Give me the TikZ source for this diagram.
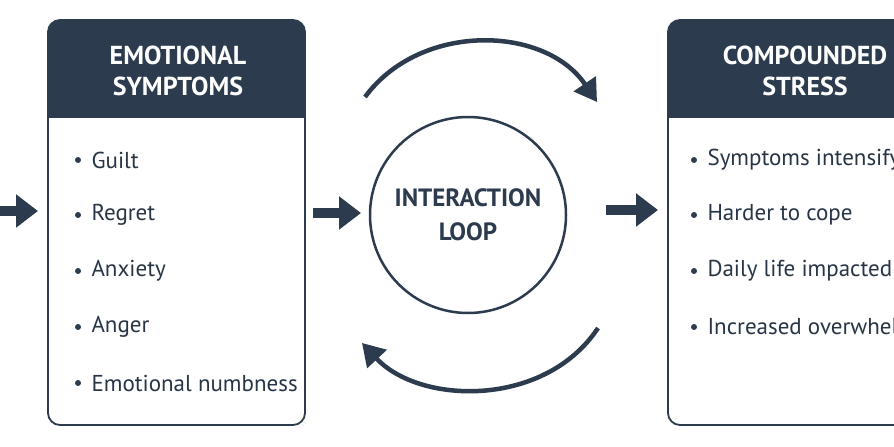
\documentclass[tikz,border=0pt]{standalone}
\usepackage{fontspec}
\setmainfont{PT Sans}
\usetikzlibrary{arrows.meta}
\definecolor{navy}{HTML}{2C3B4E}
\begin{document}
\begin{tikzpicture}[x=1pt,y=-1pt,
  box/.style={draw=navy,line width=1.8pt,rounded corners=12pt},
  hdr/.style={text=white,font=\fontsize{26}{31}\selectfont\bfseries,align=center},
  item/.style={anchor=west,text=navy!90!black,font=\fontsize{23}{27}\selectfont},
  fat/.style={draw=navy,line width=10pt,-{Triangle[length=22pt,width=32pt]}},
  arc/.style={draw=navy,line width=4.5pt,-{Triangle[length=22pt,width=26pt]}}]
\useasboundingbox (0,0) rectangle (894,447);
\fill[white] (0,0) rectangle (894,447);
% left box
\begin{scope}
\clip[rounded corners=12pt] (48,20) rectangle (305,425);
\fill[navy] (48,20) rectangle (305,118);
\end{scope}
\draw[box] (48,20) rectangle (305,425);
\node[hdr] (lh) at (178,71) {EMOTIONAL\\SYMPTOMS};
\foreach \t/\y [count=\i] in {Guilt/160,Regret/215,Anxiety/271,Anger/327,Emotional numbness/383}{
  \fill[navy] (78,\y) circle (3pt);
  \node[item] (l\i) at (88,\y) {\t};}
% right box
\begin{scope}
\clip[rounded corners=12pt] (668,20) rectangle (930,425);
\fill[navy] (668,20) rectangle (930,118);
\end{scope}
\draw[box] (668,20) rectangle (930,425);
\node[hdr] (rh) at (805,71) {COMPOUNDED\\STRESS};
\foreach \t/\y [count=\i] in {Symptoms intensify/160,Harder to cope/215,Daily life impacted/271,Increased overwhelm/327}{
  \fill[navy] (694,\y) circle (3pt);
  \node[item] (r\i) at (704,\y) {\t};}
% circle
\node[circle,draw=navy,line width=2.5pt,minimum size=196pt,align=center,
  text=navy,font=\fontsize{25}{34}\selectfont\bfseries] (loop) at (468,215) {INTERACTION\\LOOP};
% loop arcs
\coordinate (a1) at (365,97); \coordinate (a2) at (597,102);
\coordinate (b1) at (598,328); \coordinate (b2) at (362,343);
\draw[arc] (a1) .. controls (420,22) and (545,25) .. (a2);
\draw[arc] (b1) .. controls (545,408) and (420,405) .. (b2);
% straight arrows
\coordinate (s1) at (-5,211); \coordinate (e1) at (38,211);
\coordinate (s2) at (313,213); \coordinate (e2) at (361,213);
\coordinate (s3) at (606,210); \coordinate (e3) at (658,210);
\draw[fat] (s1) -- (e1);
\draw[fat] (s2) -- (e2);
\draw[fat] (s3) -- (e3);
\end{tikzpicture}
\end{document}
